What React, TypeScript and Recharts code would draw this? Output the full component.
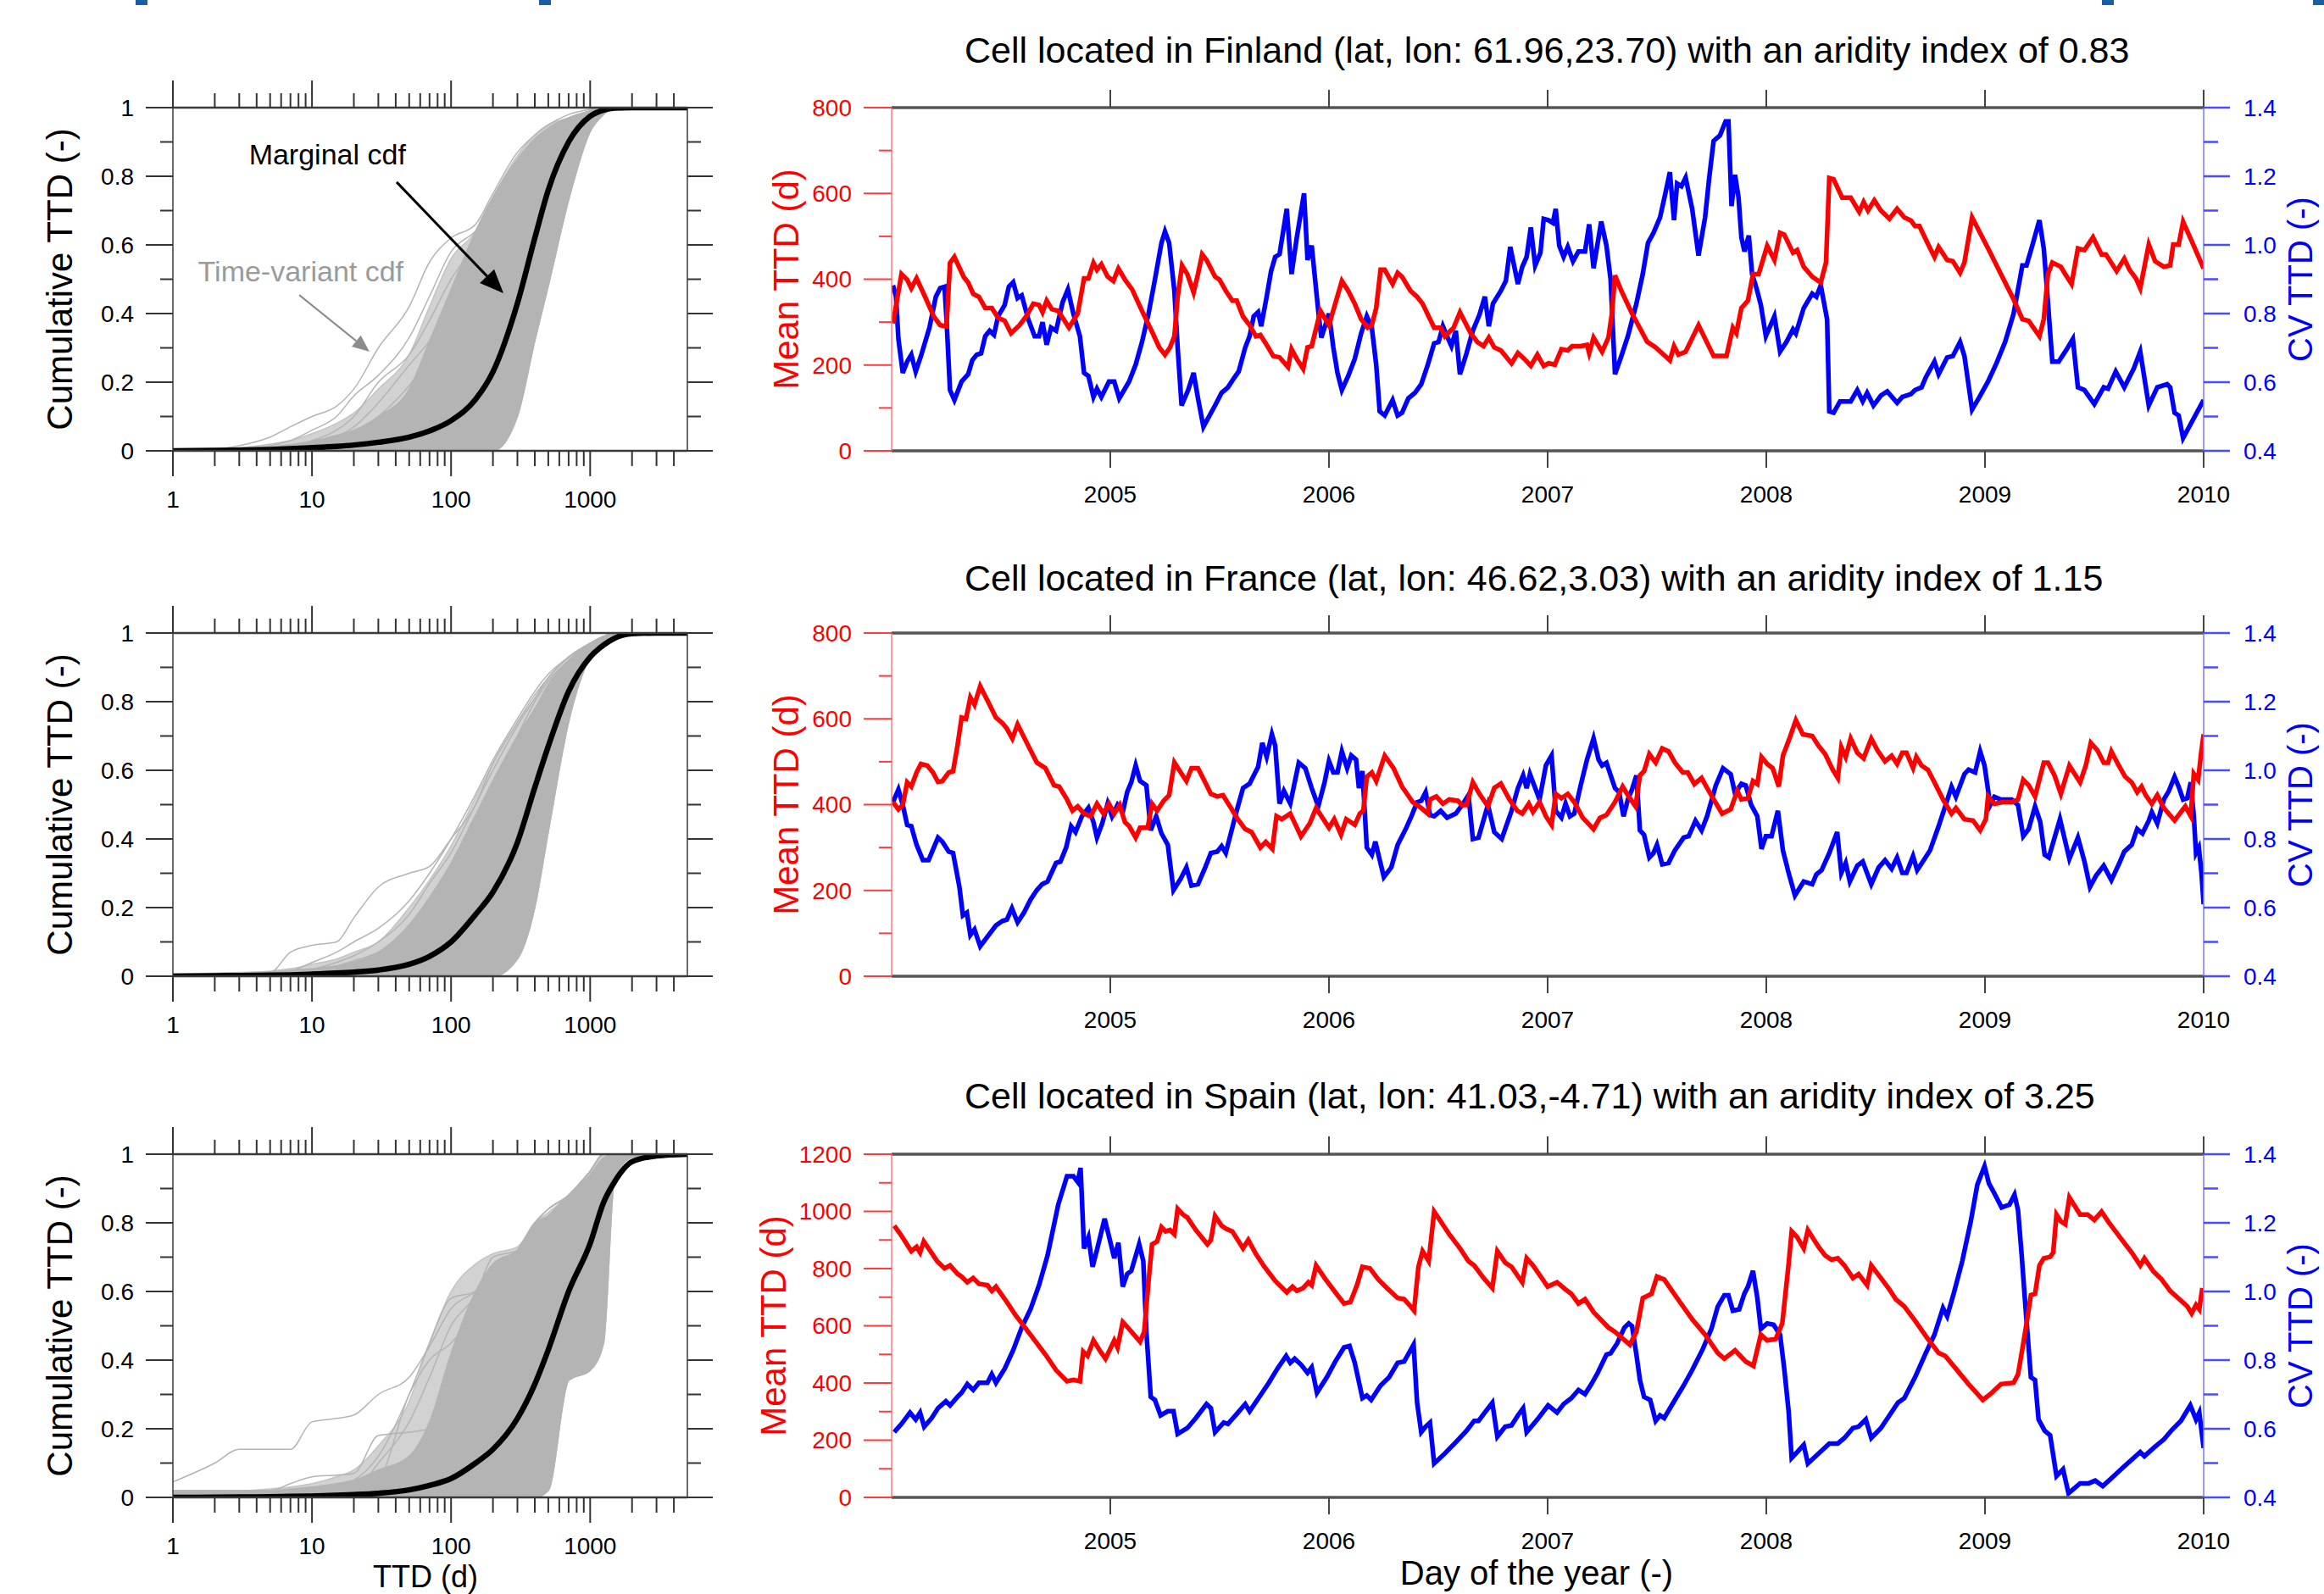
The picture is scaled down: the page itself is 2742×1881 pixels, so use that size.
import React from 'react';
import { ComposedChart, Line, Area, XAxis, YAxis, ReferenceLine, ReferenceDot } from 'recharts';

const FONT = '"Liberation Sans", Arial, Helvetica, sans-serif';

// ---------- CDF panels (travel time distributions) ----------
const ttdGrid = [1, 2, 3, 5, 7, 10, 15, 20, 30, 50, 70, 100, 150, 200, 300, 400, 500, 700, 1000, 1250, 1500, 2000, 3000, 5000];
const logTicks = [1, 2, 3, 4, 5, 6, 7, 8, 9, 10, 20, 30, 40, 50, 60, 70, 80, 90, 100, 200, 300, 400, 500, 600, 700, 800, 900, 1000, 2000, 3000, 4000];
const logMajor = [1, 10, 100, 1000];
const cdfYTicks = [0, 0.1, 0.2, 0.3, 0.4, 0.5, 0.6, 0.7, 0.8, 0.9, 1];
const cdfYLabels: Record<string, string> = { '0': '0', '0.2': '0.2', '0.4': '0.4', '0.6': '0.6', '0.8': '0.8', '1': '1' };

const finlandMarg = [0, 0.001, 0.002, 0.004, 0.006, 0.009, 0.013, 0.017, 0.025, 0.04, 0.058, 0.088, 0.15, 0.23, 0.43, 0.62, 0.76, 0.9, 0.975, 0.993, 0.999, 1, 1, 1];
const finlandHi = [0.002, 0.004, 0.007, 0.012, 0.018, 0.028, 0.045, 0.06, 0.1, 0.18, 0.32, 0.47, 0.64, 0.74, 0.85, 0.91, 0.94, 0.97, 0.99, 1, 1, 1, 1, 1];
const finlandMid = [0.003, 0.005, 0.009, 0.02, 0.03, 0.05, 0.08, 0.11, 0.18, 0.28, 0.42, 0.56, 0.64, 0.74, 0.86, 0.92, 0.95, 0.97, 0.99, 1, 1, 1, 1, 1];
const finlandLo = [0, 0, 0, 0, 0, 0, 0, 0, 0, 0, 0, 0, 0, 0, 0.1, 0.32, 0.48, 0.73, 0.93, 0.98, 1, 1, 1, 1];
const finlandLines = [
  [0, 0.005, 0.015, 0.04, 0.07, 0.1, 0.13, 0.18, 0.3, 0.42, 0.55, 0.62, 0.66, 0.75, 0.87, 0.92, 0.95, 0.98, 0.995, 1, 1, 1, 1, 1],
  [0, 0.002, 0.006, 0.015, 0.03, 0.06, 0.1, 0.16, 0.22, 0.33, 0.45, 0.58, 0.64, 0.7, 0.83, 0.9, 0.94, 0.97, 0.99, 1, 1, 1, 1, 1],
  [0, 0.001, 0.003, 0.008, 0.015, 0.03, 0.06, 0.1, 0.2, 0.28, 0.38, 0.5, 0.6, 0.68, 0.8, 0.88, 0.93, 0.97, 0.99, 1, 1, 1, 1, 1],
  [0, 0, 0.001, 0.004, 0.008, 0.02, 0.04, 0.07, 0.14, 0.25, 0.32, 0.42, 0.56, 0.66, 0.82, 0.9, 0.94, 0.97, 0.99, 1, 1, 1, 1, 1],
  [0, 0, 0.001, 0.003, 0.005, 0.01, 0.03, 0.05, 0.1, 0.19, 0.27, 0.35, 0.5, 0.6, 0.78, 0.87, 0.92, 0.96, 0.99, 1, 1, 1, 1, 1],
  [0, 0, 0, 0.002, 0.004, 0.008, 0.02, 0.04, 0.06, 0.12, 0.2, 0.3, 0.45, 0.58, 0.75, 0.85, 0.91, 0.96, 0.985, 1, 1, 1, 1, 1],
];

const franceMarg = [0, 0.001, 0.002, 0.003, 0.004, 0.006, 0.009, 0.012, 0.018, 0.035, 0.058, 0.1, 0.18, 0.245, 0.39, 0.55, 0.67, 0.83, 0.93, 0.965, 0.985, 0.998, 1, 1];
const franceHi = [0.006, 0.008, 0.01, 0.013, 0.017, 0.022, 0.03, 0.04, 0.07, 0.15, 0.23, 0.33, 0.47, 0.57, 0.7, 0.78, 0.85, 0.92, 0.97, 0.99, 1, 1, 1, 1];
const franceMid = [0.007, 0.009, 0.011, 0.015, 0.022, 0.035, 0.05, 0.07, 0.1, 0.2, 0.28, 0.38, 0.52, 0.62, 0.74, 0.81, 0.87, 0.93, 0.97, 0.99, 1, 1, 1, 1];
const franceLo = [0, 0, 0, 0, 0, 0, 0, 0, 0, 0, 0, 0, 0, 0, 0.05, 0.2, 0.42, 0.74, 0.93, 0.975, 0.99, 1, 1, 1];
const franceLines = [
  [0.002, 0.003, 0.005, 0.01, 0.07, 0.09, 0.1, 0.17, 0.26, 0.3, 0.32, 0.4, 0.5, 0.62, 0.74, 0.82, 0.87, 0.93, 0.97, 0.99, 1, 1, 1, 1],
  [0.001, 0.002, 0.003, 0.008, 0.015, 0.04, 0.07, 0.1, 0.14, 0.22, 0.3, 0.4, 0.53, 0.63, 0.75, 0.83, 0.88, 0.93, 0.97, 0.99, 1, 1, 1, 1],
  [0, 0.001, 0.002, 0.004, 0.008, 0.02, 0.04, 0.06, 0.1, 0.18, 0.27, 0.36, 0.5, 0.6, 0.73, 0.81, 0.87, 0.93, 0.97, 0.99, 1, 1, 1, 1],
  [0, 0, 0.001, 0.003, 0.006, 0.015, 0.03, 0.045, 0.07, 0.13, 0.2, 0.3, 0.44, 0.55, 0.7, 0.8, 0.86, 0.92, 0.97, 0.99, 1, 1, 1, 1],
];

const spainMarg = [0, 0.0005, 0.001, 0.002, 0.003, 0.004, 0.006, 0.008, 0.012, 0.022, 0.035, 0.055, 0.1, 0.14, 0.23, 0.33, 0.43, 0.6, 0.74, 0.86, 0.92, 0.978, 0.995, 1];
const spainHi = [0.02, 0.02, 0.02, 0.02, 0.025, 0.03, 0.04, 0.05, 0.08, 0.12, 0.22, 0.42, 0.6, 0.68, 0.72, 0.8, 0.82, 0.88, 0.94, 0.99, 1, 1, 1, 1];
const spainMid = [0.02, 0.02, 0.02, 0.025, 0.03, 0.04, 0.06, 0.08, 0.15, 0.28, 0.45, 0.6, 0.68, 0.71, 0.73, 0.8, 0.83, 0.88, 0.95, 1, 1, 1, 1, 1];
const spainLo = [0, 0, 0, 0, 0, 0, 0, 0, 0, 0, 0, 0, 0, 0, 0, 0, 0.02, 0.34, 0.37, 0.45, 0.93, 0.99, 1, 1];
const spainLines = [
  [0.045, 0.1, 0.14, 0.14, 0.14, 0.22, 0.23, 0.24, 0.3, 0.35, 0.44, 0.55, 0.6, 0.65, 0.72, 0.8, 0.84, 0.88, 0.95, 1, 1, 1, 1, 1],
  [0.02, 0.02, 0.02, 0.02, 0.04, 0.06, 0.065, 0.07, 0.18, 0.19, 0.2, 0.35, 0.5, 0.6, 0.7, 0.78, 0.82, 0.88, 0.95, 1, 1, 1, 1, 1],
  [0.01, 0.01, 0.01, 0.012, 0.015, 0.02, 0.035, 0.05, 0.12, 0.3, 0.45, 0.58, 0.6, 0.65, 0.72, 0.8, 0.84, 0.88, 0.95, 1, 1, 1, 1, 1],
  [0, 0, 0, 0.003, 0.006, 0.01, 0.015, 0.02, 0.1, 0.22, 0.35, 0.5, 0.59, 0.7, 0.72, 0.8, 0.84, 0.88, 0.95, 1, 1, 1, 1, 1],
  [0, 0, 0, 0.002, 0.004, 0.006, 0.01, 0.015, 0.05, 0.3, 0.4, 0.45, 0.55, 0.68, 0.72, 0.78, 0.82, 0.88, 0.95, 1, 1, 1, 1, 1],
];

// ---------- Time series panels (t = years since 2004-01-01) ----------
const yearTicks = [1, 2, 3, 4, 5, 6];
const yearStart = 2004;
const cvTicks = [0.4, 0.5, 0.6, 0.7, 0.8, 0.9, 1.0, 1.1, 1.2, 1.3, 1.4];
const mean800Ticks = [0, 100, 200, 300, 400, 500, 600, 700, 800];
const mean1200Ticks = [0, 100, 200, 300, 400, 500, 600, 700, 800, 900, 1000, 1100, 1200];

const finlandMean = [
  [0.006, 297], [0.045, 412], [0.071, 399], [0.090, 379], [0.114, 402], [0.153, 359], [0.193, 313], [0.222, 293], [0.251, 290], [0.267, 438], [0.287, 452], [0.330, 405], [0.350, 392], [0.373, 366], [0.399, 359], [0.428, 333], [0.458, 333], [0.487, 310], [0.517, 303], [0.546, 274], [0.585, 293], [0.615, 313], [0.648, 343], [0.674, 340], [0.690, 323], [0.709, 350], [0.733, 330], [0.762, 326], [0.811, 287], [0.851, 320], [0.880, 402], [0.900, 402], [0.923, 438], [0.939, 422], [0.959, 435], [0.988, 406],
  [1.014, 396], [1.037, 425], [1.067, 399], [1.100, 376], [1.145, 326], [1.194, 274], [1.224, 241], [1.250, 224], [1.273, 241], [1.293, 267], [1.308, 359], [1.328, 432], [1.352, 412], [1.381, 369], [1.401, 412], [1.420, 458], [1.440, 445], [1.479, 406], [1.499, 399], [1.528, 373], [1.558, 350], [1.578, 350], [1.607, 313], [1.637, 293], [1.666, 267], [1.686, 270], [1.715, 247], [1.745, 221], [1.774, 218], [1.813, 195], [1.829, 237], [1.853, 214], [1.882, 191], [1.902, 241], [1.921, 244], [1.961, 326],
  [2.000, 293], [2.059, 396], [2.088, 373], [2.118, 343], [2.147, 307], [2.177, 287], [2.196, 293], [2.216, 333], [2.236, 422], [2.255, 422], [2.291, 389], [2.314, 415], [2.334, 406], [2.373, 373], [2.403, 359], [2.428, 343], [2.481, 287], [2.511, 287], [2.530, 267], [2.570, 287], [2.599, 323], [2.648, 274], [2.678, 254], [2.707, 244], [2.731, 264], [2.756, 241], [2.786, 234], [2.835, 204], [2.864, 228], [2.894, 214], [2.923, 198], [2.953, 224], [2.982, 198],
  [3.004, 204], [3.033, 201], [3.063, 237], [3.092, 234], [3.112, 244], [3.151, 244], [3.180, 247], [3.190, 228], [3.210, 264], [3.249, 231], [3.278, 264], [3.294, 320], [3.308, 409], [3.337, 373], [3.386, 320], [3.455, 254], [3.494, 241], [3.559, 211], [3.578, 244], [3.598, 224], [3.631, 231], [3.690, 293], [3.759, 221], [3.818, 221], [3.847, 287], [3.863, 274], [3.886, 333], [3.916, 350], [3.939, 412], [3.965, 412],
  [4.004, 478], [4.037, 445], [4.063, 508], [4.082, 504], [4.122, 462], [4.141, 468], [4.171, 429], [4.210, 406], [4.249, 392], [4.273, 439], [4.288, 636], [4.308, 633], [4.347, 590], [4.386, 590], [4.425, 557], [4.445, 580], [4.465, 560], [4.494, 584], [4.524, 560], [4.563, 541], [4.598, 564], [4.631, 544], [4.661, 537], [4.680, 524], [4.700, 524], [4.749, 472], [4.769, 452], [4.788, 475], [4.827, 445], [4.853, 442], [4.886, 415], [4.906, 439], [4.941, 544],
  [5.014, 472], [5.073, 412], [5.131, 353], [5.171, 307], [5.200, 303], [5.249, 267], [5.269, 307], [5.288, 412], [5.308, 439], [5.347, 429], [5.367, 412], [5.396, 389], [5.425, 472], [5.455, 468], [5.494, 498], [5.533, 458], [5.553, 458], [5.602, 419], [5.637, 448], [5.661, 422], [5.690, 402], [5.710, 379], [5.749, 481], [5.778, 442], [5.818, 429], [5.847, 432], [5.861, 481], [5.886, 481], [5.906, 534], [5.955, 478], [6.000, 425],
];

const finlandCv = [
  [0.006, 0.882], [0.020, 0.849], [0.031, 0.726], [0.051, 0.627], [0.071, 0.66], [0.090, 0.68], [0.110, 0.631], [0.134, 0.676], [0.173, 0.759], [0.202, 0.849], [0.222, 0.874], [0.242, 0.878], [0.251, 0.783], [0.267, 0.577], [0.287, 0.548], [0.320, 0.602], [0.350, 0.623], [0.369, 0.664], [0.389, 0.68], [0.409, 0.684], [0.428, 0.734], [0.448, 0.75], [0.468, 0.738], [0.487, 0.792], [0.517, 0.825], [0.536, 0.878], [0.556, 0.891], [0.576, 0.845], [0.595, 0.853], [0.625, 0.783], [0.654, 0.734], [0.674, 0.734], [0.690, 0.775], [0.709, 0.709], [0.729, 0.759], [0.752, 0.75], [0.782, 0.833], [0.806, 0.87], [0.831, 0.8], [0.861, 0.734], [0.880, 0.627], [0.900, 0.618], [0.923, 0.557], [0.939, 0.581], [0.959, 0.557], [0.994, 0.602],
  [1.018, 0.602], [1.041, 0.553], [1.086, 0.602], [1.116, 0.651], [1.145, 0.717], [1.175, 0.8], [1.204, 0.899], [1.234, 1.006], [1.250, 1.039], [1.269, 1.006], [1.293, 0.866], [1.308, 0.701], [1.326, 0.532], [1.356, 0.577], [1.381, 0.627], [1.401, 0.553], [1.426, 0.47], [1.479, 0.532], [1.509, 0.569], [1.538, 0.585], [1.568, 0.614], [1.587, 0.631], [1.617, 0.701], [1.637, 0.734], [1.656, 0.792], [1.676, 0.804], [1.690, 0.763], [1.715, 0.849], [1.735, 0.923], [1.754, 0.965], [1.774, 0.973], [1.807, 1.105], [1.829, 0.915], [1.853, 1.022], [1.886, 1.15], [1.902, 0.956], [1.921, 0.998], [1.951, 0.808], [1.965, 0.73], [1.984, 0.767],
  [2.000, 0.8], [2.020, 0.701], [2.039, 0.627], [2.059, 0.577], [2.088, 0.618], [2.118, 0.668], [2.147, 0.742], [2.173, 0.792], [2.196, 0.759], [2.216, 0.651], [2.232, 0.515], [2.255, 0.503], [2.291, 0.548], [2.314, 0.503], [2.334, 0.511], [2.363, 0.553], [2.393, 0.569], [2.422, 0.594], [2.452, 0.651], [2.481, 0.713], [2.501, 0.717], [2.521, 0.763], [2.540, 0.734], [2.560, 0.705], [2.580, 0.75], [2.599, 0.623], [2.629, 0.684], [2.658, 0.75], [2.688, 0.796], [2.713, 0.849], [2.731, 0.763], [2.750, 0.829], [2.786, 0.866], [2.809, 0.895], [2.829, 0.994], [2.864, 0.886], [2.884, 0.936], [2.904, 0.965], [2.923, 1.051], [2.943, 0.94], [2.967, 0.977], [2.982, 1.076],
  [3.004, 1.072], [3.024, 1.064], [3.037, 1.105], [3.053, 0.998], [3.073, 0.965], [3.092, 0.994], [3.116, 0.952], [3.141, 0.981], [3.171, 0.981], [3.190, 1.06], [3.210, 0.932], [3.245, 1.068], [3.269, 0.998], [3.288, 0.899], [3.308, 0.623], [3.337, 0.676], [3.367, 0.734], [3.406, 0.829], [3.435, 0.915], [3.459, 1.006], [3.484, 1.035], [3.514, 1.08], [3.537, 1.146], [3.559, 1.212], [3.578, 1.072], [3.592, 1.179], [3.612, 1.171], [3.631, 1.196], [3.661, 1.105], [3.690, 0.969], [3.720, 1.08], [3.739, 1.196], [3.759, 1.303], [3.788, 1.319], [3.814, 1.36], [3.827, 1.36], [3.841, 1.113], [3.857, 1.204], [3.873, 1.138], [3.886, 1.022], [3.900, 0.981], [3.920, 1.027], [3.935, 0.915], [3.955, 0.874], [3.975, 0.825], [3.998, 0.734],
  [4.037, 0.792], [4.063, 0.689], [4.092, 0.717], [4.122, 0.754], [4.135, 0.742], [4.171, 0.816], [4.210, 0.858], [4.229, 0.849], [4.249, 0.882], [4.278, 0.783], [4.288, 0.515], [4.308, 0.511], [4.337, 0.544], [4.367, 0.544], [4.386, 0.544], [4.416, 0.577], [4.441, 0.544], [4.461, 0.569], [4.490, 0.532], [4.524, 0.561], [4.553, 0.573], [4.598, 0.54], [4.622, 0.557], [4.661, 0.565], [4.680, 0.577], [4.710, 0.585], [4.729, 0.614], [4.769, 0.66], [4.788, 0.623], [4.827, 0.672], [4.853, 0.676], [4.886, 0.717], [4.906, 0.676], [4.941, 0.52], [4.975, 0.557],
  [5.014, 0.602], [5.053, 0.656], [5.092, 0.717], [5.131, 0.8], [5.171, 0.94], [5.190, 0.94], [5.220, 1.006], [5.249, 1.072], [5.269, 0.989], [5.284, 0.866], [5.308, 0.66], [5.337, 0.66], [5.371, 0.693], [5.402, 0.726], [5.425, 0.585], [5.455, 0.577], [5.500, 0.536], [5.543, 0.585], [5.563, 0.581], [5.598, 0.631], [5.637, 0.585], [5.680, 0.639], [5.710, 0.689], [5.749, 0.532], [5.788, 0.585], [5.833, 0.594], [5.847, 0.585], [5.867, 0.511], [5.886, 0.503], [5.906, 0.437], [5.955, 0.495], [6.000, 0.548],
];

const franceMean = [
  [0.006, 406], [0.031, 389], [0.051, 399], [0.071, 452], [0.090, 442], [0.114, 475], [0.134, 495], [0.163, 491], [0.189, 475], [0.212, 453], [0.232, 455], [0.261, 475], [0.281, 478], [0.301, 537], [0.320, 603], [0.340, 600], [0.360, 650], [0.379, 633], [0.405, 676], [0.438, 643], [0.477, 603], [0.507, 590], [0.527, 577], [0.552, 554], [0.576, 587], [0.625, 537], [0.664, 498], [0.703, 485], [0.743, 445], [0.766, 442], [0.802, 412], [0.827, 386], [0.851, 396], [0.880, 379], [0.910, 373], [0.939, 402], [0.969, 379], [0.994, 402],
  [1.018, 379], [1.043, 399], [1.067, 359], [1.086, 350], [1.116, 323], [1.136, 346], [1.171, 346], [1.191, 402], [1.214, 386], [1.244, 409], [1.269, 422], [1.293, 498], [1.322, 475], [1.348, 455], [1.371, 485], [1.401, 485], [1.434, 452], [1.460, 425], [1.489, 419], [1.515, 422], [1.552, 392], [1.583, 366], [1.617, 343], [1.646, 336], [1.686, 300], [1.711, 313], [1.741, 297], [1.760, 373], [1.784, 366], [1.823, 379], [1.872, 326], [1.912, 356], [1.941, 392],
  [2.000, 346], [2.024, 366], [2.055, 330], [2.079, 366], [2.118, 353], [2.141, 379], [2.157, 386], [2.173, 465], [2.196, 475], [2.216, 455], [2.255, 514], [2.295, 485], [2.334, 442], [2.383, 406], [2.422, 392], [2.452, 379], [2.462, 412], [2.491, 419], [2.521, 402], [2.550, 412], [2.589, 409], [2.609, 399], [2.629, 399], [2.658, 452], [2.688, 425], [2.727, 396], [2.756, 439], [2.786, 449], [2.825, 412], [2.861, 386], [2.884, 379], [2.914, 402], [2.933, 383], [2.963, 406], [2.992, 373],
  [3.018, 353], [3.037, 425], [3.063, 415], [3.092, 425], [3.122, 406], [3.161, 369], [3.210, 343], [3.239, 369], [3.269, 376], [3.308, 406], [3.343, 442], [3.371, 419], [3.402, 396], [3.422, 468], [3.441, 478], [3.465, 518], [3.494, 498], [3.524, 531], [3.553, 524], [3.582, 498], [3.618, 475], [3.641, 475], [3.671, 448], [3.704, 462], [3.729, 439], [3.763, 409], [3.798, 379], [3.837, 389], [3.867, 432], [3.886, 412], [3.916, 415], [3.939, 455], [3.959, 448], [3.978, 511],
  [4.004, 495], [4.029, 485], [4.057, 442], [4.076, 514], [4.108, 557], [4.135, 597], [4.167, 564], [4.210, 560], [4.239, 537], [4.269, 518], [4.304, 481], [4.327, 462], [4.343, 534], [4.363, 511], [4.386, 554], [4.416, 521], [4.445, 508], [4.480, 554], [4.508, 527], [4.543, 501], [4.573, 514], [4.598, 495], [4.622, 521], [4.641, 521], [4.671, 485], [4.686, 511], [4.710, 491], [4.739, 481], [4.769, 452], [4.808, 412], [4.847, 379], [4.867, 392], [4.906, 366], [4.945, 363], [4.978, 340],
  [5.004, 366], [5.014, 419], [5.043, 402], [5.082, 406], [5.122, 406], [5.151, 412], [5.175, 458], [5.200, 445], [5.229, 419], [5.269, 498], [5.288, 498], [5.318, 468], [5.347, 425], [5.386, 491], [5.435, 452], [5.461, 491], [5.484, 544], [5.514, 527], [5.543, 498], [5.563, 498], [5.578, 524], [5.612, 491], [5.641, 465], [5.671, 452], [5.696, 429], [5.716, 442], [5.735, 422], [5.763, 402], [5.788, 422], [5.818, 392], [5.867, 363], [5.916, 396], [5.941, 373], [5.955, 472], [5.975, 458], [5.988, 518], [6.000, 564],
];

const franceCv = [
  [0.006, 0.907], [0.031, 0.944], [0.051, 0.899], [0.071, 0.841], [0.090, 0.837], [0.114, 0.783], [0.143, 0.738], [0.169, 0.738], [0.193, 0.775], [0.212, 0.804], [0.232, 0.792], [0.261, 0.763], [0.281, 0.759], [0.310, 0.66], [0.326, 0.577], [0.344, 0.585], [0.360, 0.52], [0.379, 0.536], [0.405, 0.487], [0.438, 0.515], [0.477, 0.548], [0.507, 0.561], [0.527, 0.565], [0.550, 0.598], [0.576, 0.557], [0.605, 0.585], [0.635, 0.623], [0.664, 0.651], [0.688, 0.668], [0.713, 0.676], [0.752, 0.73], [0.772, 0.734], [0.798, 0.775], [0.821, 0.837], [0.841, 0.82], [0.870, 0.866], [0.900, 0.891], [0.923, 0.849], [0.939, 0.804], [0.963, 0.845], [0.988, 0.903],
  [1.008, 0.866], [1.033, 0.899], [1.057, 0.878], [1.077, 0.936], [1.096, 0.965], [1.116, 1.014], [1.136, 0.969], [1.165, 0.956], [1.185, 0.825], [1.210, 0.866], [1.234, 0.816], [1.263, 0.783], [1.289, 0.651], [1.322, 0.684], [1.348, 0.717], [1.371, 0.664], [1.401, 0.668], [1.434, 0.717], [1.460, 0.759], [1.489, 0.763], [1.509, 0.779], [1.528, 0.759], [1.578, 0.882], [1.607, 0.948], [1.637, 0.961], [1.676, 1.01], [1.695, 1.08], [1.715, 1.039], [1.739, 1.105], [1.754, 1.072], [1.774, 0.903], [1.794, 0.94], [1.823, 0.903], [1.862, 1.022], [1.892, 1.006], [1.921, 0.948], [1.951, 0.895], [1.980, 0.965],
  [2.000, 1.027], [2.020, 0.994], [2.039, 0.994], [2.059, 1.055], [2.083, 1.006], [2.102, 1.043], [2.124, 1.031], [2.137, 0.948], [2.153, 0.998], [2.173, 0.775], [2.196, 0.754], [2.212, 0.792], [2.251, 0.689], [2.285, 0.717], [2.314, 0.783], [2.354, 0.833], [2.377, 0.866], [2.403, 0.907], [2.422, 0.911], [2.442, 0.936], [2.462, 0.87], [2.481, 0.866], [2.511, 0.882], [2.540, 0.862], [2.580, 0.874], [2.609, 0.899], [2.638, 0.928], [2.658, 0.8], [2.684, 0.804], [2.727, 0.899], [2.756, 0.82], [2.790, 0.8], [2.835, 0.882], [2.864, 0.948], [2.888, 0.985], [2.904, 0.948], [2.919, 0.989], [2.963, 0.915], [2.992, 1.014],
  [3.018, 1.043], [3.037, 0.882], [3.063, 0.862], [3.082, 0.903], [3.102, 0.866], [3.122, 0.874], [3.151, 0.956], [3.180, 1.031], [3.210, 1.093], [3.233, 1.031], [3.249, 1.014], [3.269, 1.022], [3.308, 0.948], [3.327, 0.936], [3.347, 0.866], [3.367, 0.915], [3.386, 0.944], [3.406, 0.985], [3.422, 0.825], [3.441, 0.812], [3.465, 0.746], [3.484, 0.759], [3.500, 0.783], [3.524, 0.726], [3.553, 0.73], [3.582, 0.767], [3.622, 0.804], [3.645, 0.808], [3.676, 0.853], [3.704, 0.825], [3.729, 0.866], [3.769, 0.956], [3.802, 1.006], [3.837, 0.989], [3.857, 0.932], [3.886, 0.961], [3.906, 0.956], [3.931, 0.899], [3.959, 0.866], [3.978, 0.771], [3.998, 0.808],
  [4.024, 0.808], [4.053, 0.882], [4.076, 0.767], [4.102, 0.701], [4.131, 0.635], [4.171, 0.676], [4.210, 0.668], [4.229, 0.697], [4.253, 0.709], [4.288, 0.759], [4.324, 0.82], [4.343, 0.701], [4.363, 0.73], [4.382, 0.676], [4.416, 0.722], [4.441, 0.734], [4.480, 0.668], [4.514, 0.717], [4.543, 0.738], [4.573, 0.713], [4.598, 0.746], [4.622, 0.701], [4.641, 0.701], [4.671, 0.75], [4.690, 0.709], [4.720, 0.738], [4.749, 0.767], [4.788, 0.837], [4.818, 0.895], [4.847, 0.952], [4.867, 0.923], [4.906, 0.989], [4.925, 1.002], [4.955, 0.994], [4.978, 1.055], [4.998, 1.014],
  [5.024, 0.899], [5.043, 0.923], [5.073, 0.915], [5.122, 0.915], [5.151, 0.899], [5.175, 0.808], [5.200, 0.829], [5.229, 0.895], [5.253, 0.849], [5.273, 0.754], [5.292, 0.746], [5.343, 0.858], [5.386, 0.742], [5.425, 0.804], [5.455, 0.734], [5.480, 0.66], [5.508, 0.693], [5.543, 0.722], [5.578, 0.68], [5.612, 0.726], [5.637, 0.763], [5.671, 0.783], [5.696, 0.829], [5.720, 0.816], [5.749, 0.853], [5.763, 0.878], [5.788, 0.845], [5.818, 0.915], [5.841, 0.94], [5.867, 0.981], [5.886, 0.952], [5.906, 0.915], [5.925, 0.919], [5.941, 0.965], [5.955, 0.866], [5.965, 0.759], [5.978, 0.775], [5.990, 0.701], [6.000, 0.61],
];

const spainMean = [
  [0.012, 950], [0.045, 915], [0.090, 861], [0.114, 876], [0.130, 856], [0.147, 895], [0.173, 866], [0.208, 826], [0.242, 801], [0.267, 811], [0.301, 782], [0.320, 772], [0.346, 752], [0.373, 767], [0.399, 747], [0.438, 742], [0.458, 722], [0.477, 737], [0.527, 683], [0.566, 638], [0.605, 599], [0.654, 549], [0.703, 500], [0.752, 445], [0.802, 406], [0.831, 411], [0.861, 406], [0.876, 510], [0.896, 495], [0.923, 549], [0.955, 510], [0.978, 485],
  [1.018, 549], [1.033, 524], [1.057, 613], [1.086, 589], [1.136, 544], [1.155, 579], [1.175, 757], [1.191, 885], [1.214, 895], [1.234, 945], [1.253, 930], [1.273, 935], [1.293, 920], [1.308, 1009], [1.332, 989], [1.352, 979], [1.391, 935], [1.444, 885], [1.460, 900], [1.479, 984], [1.509, 950], [1.528, 940], [1.558, 930], [1.607, 871], [1.631, 900], [1.666, 851], [1.705, 806], [1.754, 757], [1.807, 717], [1.833, 737], [1.853, 722], [1.882, 732], [1.906, 752], [1.921, 742], [1.941, 811], [1.980, 767],
  [2.029, 717], [2.069, 678], [2.098, 683], [2.128, 742], [2.153, 806], [2.187, 801], [2.226, 762], [2.265, 732], [2.314, 697], [2.344, 693], [2.373, 668], [2.389, 653], [2.409, 806], [2.428, 861], [2.456, 826], [2.481, 999], [2.511, 965], [2.550, 920], [2.599, 871], [2.638, 826], [2.664, 811], [2.707, 767], [2.747, 732], [2.770, 861], [2.806, 821], [2.835, 806], [2.884, 752], [2.904, 836], [2.933, 811], [2.982, 757],
  [3.000, 737], [3.043, 752], [3.082, 727], [3.108, 712], [3.141, 678], [3.171, 693], [3.210, 648], [3.278, 594], [3.308, 579], [3.376, 534], [3.406, 579], [3.435, 697], [3.475, 712], [3.500, 772], [3.533, 762], [3.592, 697], [3.661, 623], [3.720, 569], [3.778, 505], [3.808, 485], [3.857, 514], [3.906, 475], [3.941, 460], [3.975, 569],
  [4.004, 549], [4.043, 554], [4.073, 608], [4.102, 816], [4.116, 930], [4.141, 910], [4.171, 871], [4.190, 935], [4.239, 876], [4.269, 846], [4.298, 831], [4.327, 836], [4.357, 811], [4.396, 767], [4.422, 781], [4.461, 742], [4.480, 811], [4.524, 767], [4.563, 727], [4.592, 693], [4.631, 668], [4.680, 618], [4.739, 554], [4.788, 505], [4.818, 495], [4.867, 450], [4.925, 396], [4.955, 371], [4.990, 341],
  [5.024, 361], [5.073, 396], [5.131, 401], [5.151, 430], [5.171, 519], [5.190, 608], [5.210, 707], [5.229, 712], [5.249, 811], [5.269, 836], [5.298, 841], [5.312, 856], [5.327, 989], [5.347, 965], [5.367, 955], [5.386, 1049], [5.435, 989], [5.469, 989], [5.500, 970], [5.533, 999], [5.563, 965], [5.622, 905], [5.671, 856], [5.710, 811], [5.729, 836], [5.769, 791], [5.808, 762], [5.847, 722], [5.896, 688], [5.925, 668], [5.945, 643], [5.965, 673], [5.980, 658], [5.994, 732],
];

const spainCv = [
  [0.012, 0.59], [0.045, 0.614], [0.084, 0.647], [0.110, 0.627], [0.130, 0.647], [0.149, 0.606], [0.183, 0.631], [0.212, 0.66], [0.248, 0.68], [0.267, 0.668], [0.301, 0.693], [0.320, 0.705], [0.346, 0.73], [0.373, 0.713], [0.399, 0.734], [0.438, 0.734], [0.458, 0.759], [0.477, 0.734], [0.517, 0.775], [0.556, 0.829], [0.595, 0.895], [0.635, 0.948], [0.674, 1.018], [0.713, 1.105], [0.762, 1.253], [0.802, 1.336], [0.831, 1.336], [0.851, 1.319], [0.864, 1.36], [0.880, 1.125], [0.900, 1.158], [0.919, 1.072], [0.939, 1.121], [0.974, 1.212], [0.998, 1.15],
  [1.018, 1.097], [1.037, 1.142], [1.057, 1.014], [1.077, 1.051], [1.096, 1.06], [1.132, 1.138], [1.151, 1.088], [1.165, 0.882], [1.185, 0.693], [1.204, 0.684], [1.230, 0.639], [1.263, 0.651], [1.289, 0.651], [1.308, 0.585], [1.352, 0.602], [1.391, 0.631], [1.440, 0.672], [1.460, 0.66], [1.479, 0.59], [1.519, 0.618], [1.538, 0.614], [1.578, 0.643], [1.617, 0.672], [1.637, 0.651], [1.686, 0.697], [1.725, 0.734], [1.764, 0.775], [1.804, 0.812], [1.823, 0.792], [1.843, 0.804], [1.872, 0.787], [1.902, 0.763], [1.921, 0.779], [1.945, 0.705], [1.990, 0.75],
  [2.029, 0.796], [2.069, 0.837], [2.094, 0.841], [2.118, 0.792], [2.153, 0.689], [2.173, 0.697], [2.193, 0.684], [2.236, 0.726], [2.275, 0.75], [2.314, 0.792], [2.344, 0.796], [2.387, 0.845], [2.403, 0.676], [2.422, 0.59], [2.442, 0.606], [2.462, 0.618], [2.481, 0.499], [2.530, 0.528], [2.580, 0.561], [2.629, 0.594], [2.664, 0.623], [2.684, 0.623], [2.717, 0.651], [2.747, 0.676], [2.770, 0.577], [2.806, 0.606], [2.835, 0.61], [2.864, 0.639], [2.888, 0.66], [2.904, 0.59], [2.953, 0.627],
  [3.002, 0.668], [3.043, 0.647], [3.073, 0.672], [3.108, 0.689], [3.141, 0.713], [3.171, 0.701], [3.200, 0.73], [3.229, 0.763], [3.269, 0.816], [3.288, 0.82], [3.318, 0.849], [3.351, 0.895], [3.371, 0.907], [3.386, 0.899], [3.406, 0.816], [3.422, 0.742], [3.441, 0.693], [3.469, 0.684], [3.494, 0.623], [3.514, 0.639], [3.533, 0.631], [3.582, 0.684], [3.622, 0.726], [3.661, 0.771], [3.710, 0.833], [3.749, 0.891], [3.778, 0.956], [3.808, 0.989], [3.827, 0.989], [3.847, 0.944], [3.876, 0.948], [3.900, 0.994], [3.916, 1.014], [3.939, 1.06], [3.959, 0.981], [3.975, 0.891],
  [4.004, 0.907], [4.033, 0.903], [4.063, 0.874], [4.082, 0.775], [4.102, 0.651], [4.116, 0.515], [4.141, 0.532], [4.171, 0.553], [4.190, 0.499], [4.239, 0.528], [4.288, 0.557], [4.327, 0.557], [4.357, 0.573], [4.396, 0.602], [4.422, 0.606], [4.455, 0.627], [4.480, 0.573], [4.524, 0.602], [4.563, 0.639], [4.602, 0.676], [4.631, 0.689], [4.680, 0.75], [4.729, 0.82], [4.769, 0.874], [4.808, 0.952], [4.827, 0.928], [4.857, 0.994], [4.896, 1.088], [4.935, 1.204], [4.965, 1.311], [4.998, 1.365],
  [5.018, 1.315], [5.043, 1.286], [5.076, 1.245], [5.112, 1.253], [5.135, 1.282], [5.151, 1.237], [5.167, 1.113], [5.186, 0.948], [5.210, 0.75], [5.229, 0.742], [5.245, 0.627], [5.273, 0.594], [5.298, 0.581], [5.327, 0.462], [5.357, 0.482], [5.382, 0.412], [5.435, 0.441], [5.475, 0.441], [5.504, 0.449], [5.539, 0.433], [5.582, 0.458], [5.631, 0.487], [5.710, 0.532], [5.729, 0.52], [5.778, 0.548], [5.818, 0.569], [5.857, 0.598], [5.896, 0.623], [5.939, 0.668], [5.965, 0.627], [5.980, 0.647], [6.000, 0.544],
];

const panelTitles = [
  'Cell located in Finland (lat, lon: 61.96,23.70) with an aridity index of 0.83',
  'Cell located in France (lat, lon: 46.62,3.03) with an aridity index of 1.15',
  'Cell located in Spain (lat, lon: 41.03,-4.71) with an aridity index of 3.25',
];

// ---------- tick renderers ----------
const LogTickBottom = (p: any) => {
  const { x, y, payload } = p;
  const v = payload.value;
  const major = logMajor.includes(v);
  return (
    <g>
      <line x1={x} y1={y} x2={x} y2={y + (major ? 30 : 18)} stroke="#333" strokeWidth={2} />
      {major && (
        <text x={x} y={y + 57} dy="0.35em" textAnchor="middle" fontSize={28} fontFamily={FONT} fill="#000">{v}</text>
      )}
    </g>
  );
};
const LogTickTop = (p: any) => {
  const { x, y, payload } = p;
  const major = logMajor.includes(payload.value);
  return <line x1={x} y1={y} x2={x} y2={y - (major ? 32 : 17)} stroke="#333" strokeWidth={2} />;
};
const CdfTickLeft = (p: any) => {
  const { x, y, payload } = p;
  const label = cdfYLabels[String(payload.value)];
  return (
    <g>
      <line x1={x} y1={y} x2={x - (label ? 32 : 15)} y2={y} stroke="#333" strokeWidth={2} />
      {label && (
        <text x={x - 46} y={y} dy="0.35em" textAnchor="end" fontSize={28} fontFamily={FONT} fill="#000">{label}</text>
      )}
    </g>
  );
};
const CdfTickRight = (p: any) => {
  const { x, y, payload } = p;
  const major = !!cdfYLabels[String(payload.value)];
  return <line x1={x} y1={y} x2={x + (major ? 30 : 16)} y2={y} stroke="#333" strokeWidth={2} />;
};
const YearTickBottom = (p: any) => {
  const { x, y, payload } = p;
  return (
    <g>
      <line x1={x} y1={y} x2={x} y2={y + 20} stroke="#444" strokeWidth={2} />
      <text x={x} y={y + 51} dy="0.35em" textAnchor="middle" fontSize={28} fontFamily={FONT} fill="#000">{yearStart + payload.value}</text>
    </g>
  );
};
const YearTickTop = (p: any) => {
  const { x, y } = p;
  return <line x1={x} y1={y} x2={x} y2={y - 21} stroke="#444" strokeWidth={2} />;
};
const MeanTick = (p: any) => {
  const { x, y, payload } = p;
  const v = payload.value;
  const major = v % 200 === 0;
  return (
    <g>
      <line x1={x} y1={y} x2={x - (major ? 33 : 15)} y2={y} stroke="#ff3b3b" strokeWidth={2} />
      {major && (
        <text x={x - 47} y={y} dy="0.35em" textAnchor="end" fontSize={28} fontFamily={FONT} fill="#ff0000">{v}</text>
      )}
    </g>
  );
};
const CvTick = (p: any) => {
  const { x, y, payload } = p;
  const v = payload.value;
  const major = Math.round(v * 10) % 2 === 0;
  return (
    <g>
      <line x1={x} y1={y} x2={x + (major ? 31 : 17)} y2={y} stroke="#4a4aff" strokeWidth={2.5} />
      {major && (
        <text x={x + 47} y={y} dy="0.35em" textAnchor="start" fontSize={28} fontFamily={FONT} fill="#0000ff">{v.toFixed(1)}</text>
      )}
    </g>
  );
};

const arrowShape = (color: string, w: number, head: number) => (p: any) => {
  const { x1, y1, x2, y2 } = p;
  if ([x1, y1, x2, y2].some((v) => typeof v !== 'number' || isNaN(v))) return <g />;
  const ang = Math.atan2(y2 - y1, x2 - x1);
  const bx = x2 - head * Math.cos(ang);
  const by = y2 - head * Math.sin(ang);
  const hw = head * 0.42;
  const pts = `${x2},${y2} ${bx + hw * Math.sin(ang)},${by - hw * Math.cos(ang)} ${bx - hw * Math.sin(ang)},${by + hw * Math.cos(ang)}`;
  return (
    <g>
      <line x1={x1} y1={y1} x2={bx} y2={by} stroke={color} strokeWidth={w} />
      <polygon points={pts} fill={color} />
    </g>
  );
};
const textShape = (label: string, color: string) => (p: any) => (
  <text x={p.cx} y={p.cy} dy="0.35em" textAnchor="middle" fontSize={34} fontFamily={FONT} fill={color}>{label}</text>
);

function CdfPanel({ top, marg, lo, hi, mid, lines, annotate }: any) {
  const rows = ttdGrid.map((x, i) => {
    const r: any = { x, band: [lo[i], hi[i]], fringe: [lo[i], mid[i]], marg: marg[i] };
    lines.forEach((l: number[], k: number) => { r['l' + k] = l[i]; });
    return r;
  });
  return (
    <div style={{ position: 'absolute', left: 0, top: top - 50, width: 900, height: 560 }}>
      <ComposedChart width={900} height={560} data={rows} margin={{ top: 10, right: 49, bottom: 25, left: 120 }}>
        <XAxis xAxisId="b" dataKey="x" type="number" scale="log" domain={[1, 5000]} allowDataOverflow ticks={logTicks} interval={0} height={80} tickSize={0} tickMargin={0} tickLine={false} axisLine={{ stroke: '#3a3a3a', strokeWidth: 2.5 }} tick={LogTickBottom} />
        <XAxis xAxisId="t" orientation="top" dataKey="x" type="number" scale="log" domain={[1, 5000]} allowDataOverflow ticks={logTicks} interval={0} height={40} tickSize={0} tickMargin={0} tickLine={false} axisLine={{ stroke: '#3a3a3a', strokeWidth: 2.5 }} tick={LogTickTop} />
        <YAxis yAxisId="l" type="number" domain={[0, 1]} allowDataOverflow ticks={cdfYTicks} interval={0} width={84} tickSize={0} tickMargin={0} tickLine={false} axisLine={{ stroke: '#3a3a3a', strokeWidth: 1.5 }} tick={CdfTickLeft} />
        <YAxis yAxisId="r" orientation="right" type="number" domain={[0, 1]} allowDataOverflow ticks={cdfYTicks} interval={0} width={40} tickSize={0} tickMargin={0} tickLine={false} axisLine={{ stroke: '#3a3a3a', strokeWidth: 1.5 }} tick={CdfTickRight} />
        <Area xAxisId="b" yAxisId="l" dataKey="fringe" type="monotone" stroke="#c4c4c4" strokeWidth={1.5} fill="#d2d2d2" fillOpacity={1} isAnimationActive={false} dot={false} activeDot={false} />
        <Area xAxisId="b" yAxisId="l" dataKey="band" type="monotone" stroke="#b4b4b4" strokeWidth={1.5} fill="#b4b4b4" fillOpacity={1} isAnimationActive={false} dot={false} activeDot={false} />
        {lines.map((_: any, k: number) => (
          <Line key={k} xAxisId="b" yAxisId="l" dataKey={'l' + k} type="monotone" stroke="#b4b4b4" strokeWidth={1.5} dot={false} activeDot={false} isAnimationActive={false} />
        ))}
        <Line xAxisId="b" yAxisId="l" dataKey="marg" type="monotone" stroke="#000" strokeWidth={6.5} dot={false} activeDot={false} isAnimationActive={false} />
        {annotate && (
          <ReferenceLine xAxisId="b" yAxisId="l" segment={[{ x: 40.6, y: 0.783 }, { x: 238, y: 0.459 }]} shape={arrowShape('#000', 3, 28)} />
        )}
        {annotate && (
          <ReferenceLine xAxisId="b" yAxisId="l" segment={[{ x: 8.1, y: 0.454 }, { x: 25.9, y: 0.289 }]} shape={arrowShape('#8c8c8c', 2, 20)} />
        )}
        {annotate && <ReferenceDot xAxisId="b" yAxisId="l" x={12.9} y={0.864} r={1} shape={textShape('Marginal cdf', '#000')} />}
        {annotate && <ReferenceDot xAxisId="b" yAxisId="l" x={8.3} y={0.523} r={1} shape={textShape('Time-variant cdf', '#9a9a9a')} />}
      </ComposedChart>
    </div>
  );
}

function TimePanel({ top, mean, cv, meanMax, meanTicks }: any) {
  const meanRows = mean.map(([t, v]: number[]) => ({ t, v }));
  const cvRows = cv.map(([t, v]: number[]) => ({ t, v }));
  return (
    <div style={{ position: 'absolute', left: 900, top: top - 50, width: 1842, height: 560 }}>
      <ComposedChart width={1842} height={560} margin={{ top: 10, right: 42, bottom: 25, left: 52 }}>
        <XAxis xAxisId="b" dataKey="t" type="number" domain={[0, 6]} allowDataOverflow ticks={yearTicks} interval={0} height={80} tickSize={0} tickMargin={0} tickLine={false} axisLine={{ stroke: '#555', strokeWidth: 3.5 }} tick={YearTickBottom} />
        <XAxis xAxisId="t" orientation="top" dataKey="t" type="number" domain={[0, 6]} allowDataOverflow ticks={yearTicks} interval={0} height={40} tickSize={0} tickMargin={0} tickLine={false} axisLine={{ stroke: '#555', strokeWidth: 3.5 }} tick={YearTickTop} />
        <YAxis yAxisId="l" type="number" domain={[0, meanMax]} allowDataOverflow ticks={meanTicks} interval={0} width={100} tickSize={0} tickMargin={0} tickLine={false} axisLine={{ stroke: '#ff7a7a', strokeWidth: 1.5 }} tick={MeanTick} />
        <YAxis yAxisId="r" orientation="right" type="number" domain={[0.4, 1.4]} allowDataOverflow ticks={cvTicks} interval={0} width={100} tickSize={0} tickMargin={0} tickLine={false} axisLine={{ stroke: '#7a7aff', strokeWidth: 1.5 }} tick={CvTick} />
        <Line data={cvRows} xAxisId="b" yAxisId="r" dataKey="v" type="linear" stroke="#0000ff" strokeWidth={5.5} dot={false} activeDot={false} isAnimationActive={false} />
        <Line data={meanRows} xAxisId="b" yAxisId="l" dataKey="v" type="linear" stroke="#ff0000" strokeWidth={5.5} dot={false} activeDot={false} isAnimationActive={false} />
      </ComposedChart>
    </div>
  );
}

const rowTops = [127, 747, 1362];

export default function App() {
  const rowCenters = rowTops.map((t) => t + 202.5);
  return (
    <div style={{ position: 'absolute', left: 0, top: 0, width: 2742, height: 1881, background: '#fff', overflow: 'hidden', fontFamily: FONT }}>
      <CdfPanel top={rowTops[0]} marg={finlandMarg} lo={finlandLo} hi={finlandHi} mid={finlandMid} lines={finlandLines} annotate />
      <CdfPanel top={rowTops[1]} marg={franceMarg} lo={franceLo} hi={franceHi} mid={franceMid} lines={franceLines} />
      <CdfPanel top={rowTops[2]} marg={spainMarg} lo={spainLo} hi={spainHi} mid={spainMid} lines={spainLines} />
      <TimePanel top={rowTops[0]} mean={finlandMean} cv={finlandCv} meanMax={800} meanTicks={mean800Ticks} />
      <TimePanel top={rowTops[1]} mean={franceMean} cv={franceCv} meanMax={800} meanTicks={mean800Ticks} />
      <TimePanel top={rowTops[2]} mean={spainMean} cv={spainCv} meanMax={1200} meanTicks={mean1200Ticks} />
      <svg width={2742} height={1881} style={{ position: 'absolute', left: 0, top: 0, pointerEvents: 'none' }}>
        <rect x={160} y={0} width={14} height={6} fill="#1a5ea6" />
        <rect x={636} y={0} width={14} height={6} fill="#1a5ea6" />
        <rect x={2480} y={0} width={14} height={6} fill="#1a5ea6" />
        <rect x={2729} y={0} width={13} height={6} fill="#1a5ea6" />
        {panelTitles.map((t, i) => (
          <text key={t} x={1138} y={[74, 697, 1308][i]} textAnchor="start" fontSize={43} fontFamily={FONT} fill="#000">{t}</text>
        ))}
        {rowCenters.map((c, i) => (
          <g key={i}>
            <text x={70} y={c} dy="0.35em" textAnchor="middle" fontSize={42} fontFamily={FONT} fill="#000" transform={`rotate(-90, 70, ${c})`}>Cumulative TTD (-)</text>
            <text x={i === 2 ? 912 : 927} y={c} dy="0.35em" textAnchor="middle" fontSize={42} fontFamily={FONT} fill="#ff0000" transform={`rotate(-90, ${i === 2 ? 912 : 927}, ${c})`}>Mean TTD (d)</text>
            <text x={2714} y={c} dy="0.35em" textAnchor="middle" fontSize={40} fontFamily={FONT} fill="#0000ff" transform={`rotate(-90, 2714, ${c})`}>CV TTD (-)</text>
          </g>
        ))}
        <text x={502} y={1873} textAnchor="middle" fontSize={36} fontFamily={FONT} fill="#000">TTD (d)</text>
        <text x={1813} y={1870} textAnchor="middle" fontSize={40} fontFamily={FONT} fill="#000">Day of the year (-)</text>
      </svg>
    </div>
  );
}
